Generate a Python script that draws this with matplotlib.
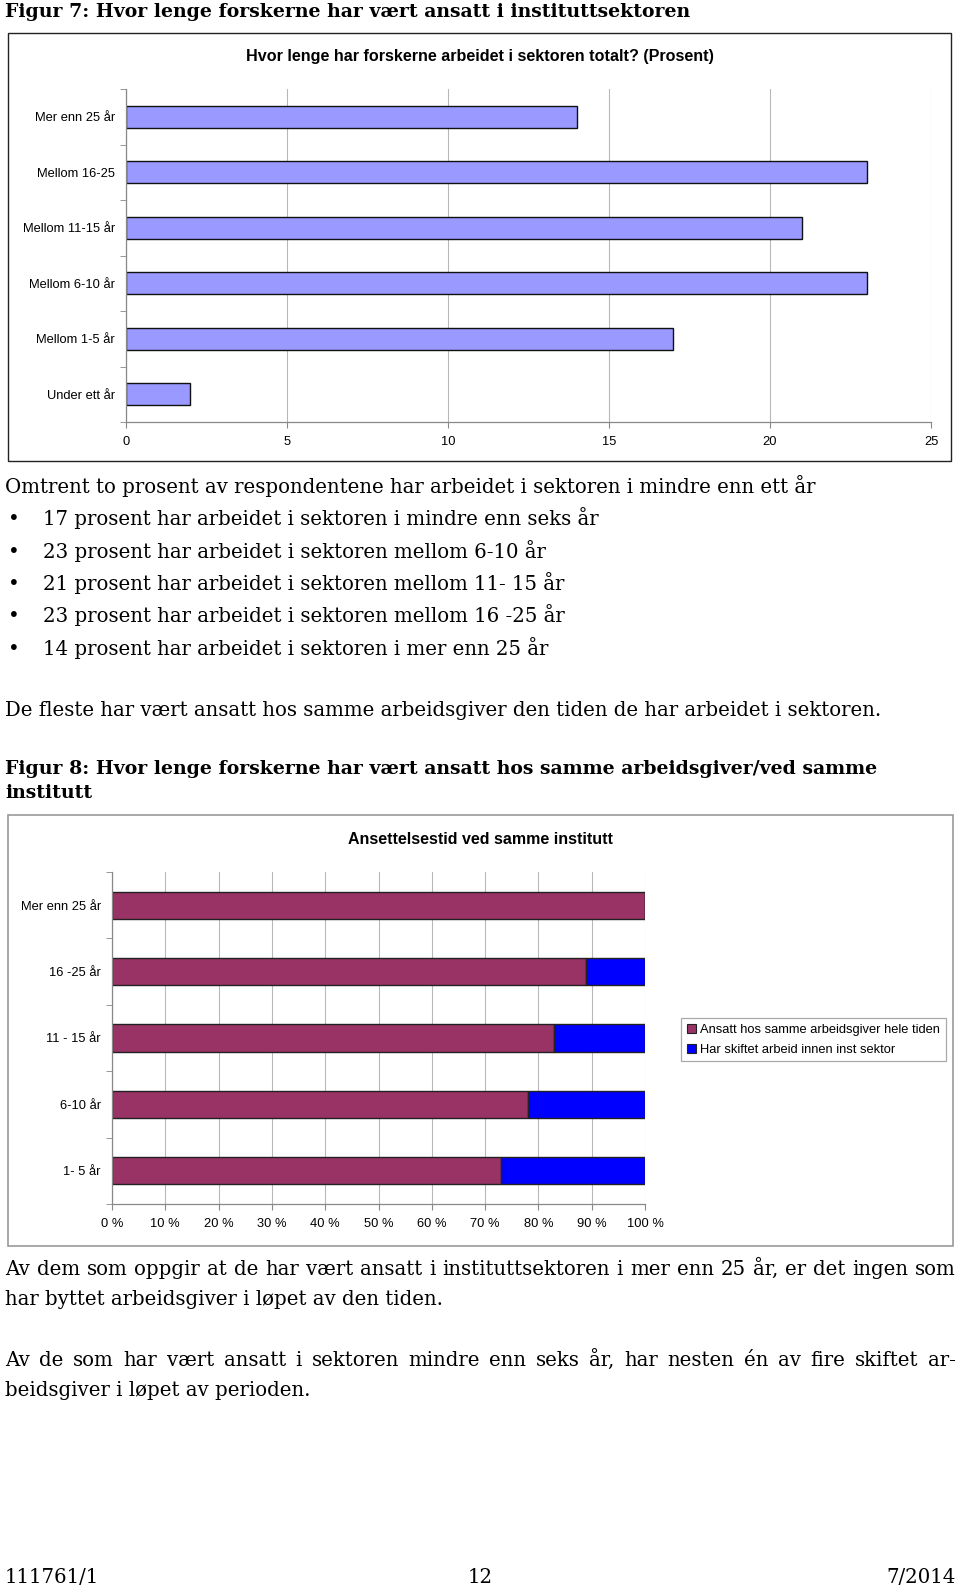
import matplotlib
matplotlib.use("Agg")
import matplotlib.pyplot as plt
from matplotlib.patches import Rectangle, Patch
from matplotlib.ticker import FixedLocator

W, H = 960, 1589
DPI = 100

# ---------------- data ----------------
cat1 = ["Under ett år", "Mellom 1-5 år", "Mellom 6-10 år", "Mellom 11-15 år", "Mellom 16-25", "Mer enn 25 år"]
val1 = [2, 17, 23, 21, 23, 14]
xticks1 = [0, 5, 10, 15, 20, 25]

cat2 = ["1- 5 år", "6-10 år", "11 - 15 år", "16 -25 år", "Mer enn 25 år"]
same_emp = [73, 78, 83, 89, 100]
changed = [27, 22, 17, 11, 0]
xticks2 = [0, 10, 20, 30, 40, 50, 60, 70, 80, 90, 100]
xticklabels2 = [f"{v} %" for v in xticks2]
legend_labels = ["Ansatt hos samme arbeidsgiver hele tiden", "Har skiftet arbeid innen inst sektor"]

fig_title7 = "Figur 7: Hvor lenge forskerne har vært ansatt i instituttsektoren"
chart_title1 = "Hvor lenge har forskerne arbeidet i sektoren totalt? (Prosent)"
intro = "Omtrent to prosent av respondentene har arbeidet i sektoren i mindre enn ett år"
bullets = ["17 prosent har arbeidet i sektoren i mindre enn seks år",
           "23 prosent har arbeidet i sektoren mellom 6-10 år",
           "21 prosent har arbeidet i sektoren mellom 11- 15 år",
           "23 prosent har arbeidet i sektoren mellom 16 -25 år",
           "14 prosent har arbeidet i sektoren i mer enn 25 år"]
para1 = "De fleste har vært ansatt hos samme arbeidsgiver den tiden de har arbeidet i sektoren."
fig_title8a = "Figur 8: Hvor lenge forskerne har vært ansatt hos samme arbeidsgiver/ved samme"
fig_title8b = "institutt"
chart_title2 = "Ansettelsestid ved samme institutt"
para2 = ["Av dem som oppgir at de har vært ansatt i instituttsektoren i mer enn 25 år, er det ingen som",
         "har byttet arbeidsgiver i løpet av den tiden."]
para3 = ["Av de som har vært ansatt i sektoren mindre enn seks år, har nesten én av fire skiftet ar-",
         "beidsgiver i løpet av perioden."]
footer = ["111761/1", "12", "7/2014"]

# ---------------- figure ----------------
fig = plt.figure(figsize=(W / DPI, H / DPI), dpi=DPI)
fig.patch.set_facecolor("white")
r = fig.canvas.get_renderer()

SANS = "Liberation Sans"
SERIF = "DejaVu Serif"


def fx(x):
    return x / W


def fy(y):
    return 1 - y / H


def fit_size(s, target_w, **kw):
    t = fig.text(0, 0, s, fontsize=10, **kw)
    w = t.get_window_extent(r).width
    t.remove()
    return 10 * target_w / w


body_fs = fit_size(intro, 814, family=SERIF)
bold_fs = fit_size(fig_title8a, 888, family=SERIF, weight="bold")
bold_fs = min(bold_fs, fit_size(fig_title7, 687, family=SERIF, weight="bold"))


def put(s, x, y, fontsize, **kw):
    # y is the visual centre of the capitals; place by baseline
    base = y + 0.36 * fontsize * DPI / 72
    return fig.text(fx(x), fy(base), s, va="baseline", fontsize=fontsize, **kw)


def justify(line, y, x0, x1, fontsize, **kw):
    base = y + 0.36 * fontsize * DPI / 72
    words = line.split(" ")
    ts = [fig.text(0, fy(base), w, va="baseline", fontsize=fontsize, **kw) for w in words]
    widths = [t.get_window_extent(r).width for t in ts]
    gap = (x1 - x0 - sum(widths)) / (len(words) - 1)
    x = x0
    for t, wd in zip(ts, widths):
        t.set_x(fx(x))
        x += wd + gap


# ---------------- page texts ----------------
put(fig_title7, 5, 10, bold_fs, family=SERIF, weight="bold")
put(intro, 5, 486, body_fs, family=SERIF)
for i, b in enumerate(bullets):
    y = 518 + i * 32.4
    put("•", 8, y, body_fs, family=SERIF)
    put(b, 43, y, body_fs, family=SERIF)
put(para1, 5, 709, body_fs, family=SERIF)
put(fig_title8a, 5, 767, bold_fs, family=SERIF, weight="bold")
put(fig_title8b, 5, 791, bold_fs, family=SERIF, weight="bold")
justify(para2[0], 1268, 5, 956, body_fs, family=SERIF)
put(para2[1], 5, 1298, body_fs, family=SERIF)
justify(para3[0], 1359, 5, 956, body_fs, family=SERIF)
put(para3[1], 5, 1389, body_fs, family=SERIF)
put(footer[0], 5, 1576, body_fs, family=SERIF)
put(footer[1], 480, 1576, body_fs, family=SERIF, ha="center")
put(footer[2], 956, 1576, body_fs, family=SERIF, ha="right")

# ---------------- chart frames ----------------
fig.add_artist(Rectangle((fx(8), fy(461)), (951 - 8) / W, (461 - 33) / H,
                         transform=fig.transFigure, fill=False, edgecolor="#222222", lw=1.0))
fig.add_artist(Rectangle((fx(8), fy(1246)), (953 - 8) / W, (1246 - 815) / H,
                         transform=fig.transFigure, fill=False, edgecolor="#999999", lw=1.2))

fig.text(fx(480), fy(57), chart_title1, family=SANS, weight="bold", fontsize=11.6,
         ha="center", va="center")
fig.text(fx(480), fy(839), chart_title2, family=SANS, weight="bold", fontsize=11.5,
         ha="center", va="center")


def style_axes(ax, ncat, xt, xtl, xmax):
    ax.set_xlim(0, xmax)
    ax.set_ylim(-0.5, ncat - 0.5)
    ax.set_xticks(xt)
    ax.set_xticklabels(xtl, family=SANS, fontsize=9.3)
    ax.xaxis.grid(True, color="#b8b8b8", lw=0.8)
    ax.set_axisbelow(True)
    ax.yaxis.set_minor_locator(FixedLocator([i - 0.5 for i in range(ncat + 1)]))
    ax.tick_params(axis="y", which="major", length=0, pad=8)
    ax.tick_params(axis="y", which="minor", length=4, color="#888888", direction="out")
    ax.tick_params(axis="x", length=4, color="#888888", pad=6)
    for s in ["top", "right"]:
        ax.spines[s].set_visible(False)
    for s in ["left", "bottom"]:
        ax.spines[s].set_color("#888888")
        ax.spines[s].set_linewidth(0.9)
    for lab in ax.get_yticklabels():
        lab.set_family(SANS)
        lab.set_fontsize(9.3)


# ---------------- chart 1 ----------------
ax1 = fig.add_axes([fx(126), fy(422), (931 - 126) / W, (422 - 89) / H])
pos1 = list(range(len(cat1)))
ax1.barh(pos1, val1, height=0.4, color="#9999FF", edgecolor="#111111", linewidth=1.0)
ax1.set_yticks(pos1)
ax1.set_yticklabels(cat1)
style_axes(ax1, len(cat1), xticks1, [str(v) for v in xticks1], 25)

# ---------------- chart 2 ----------------
ax2 = fig.add_axes([fx(112), fy(1204), (645 - 112) / W, (1204 - 872) / H])
pos2 = list(range(len(cat2)))
ax2.barh(pos2, same_emp, height=0.41, color="#993366", edgecolor="#222222", linewidth=1.0)
ax2.barh(pos2, changed, left=same_emp, height=0.41, color="#0000FF", edgecolor="#222222", linewidth=1.0)
ax2.set_yticks(pos2)
ax2.set_yticklabels(cat2)
style_axes(ax2, len(cat2), xticks2, xticklabels2, 100)

handles = [Patch(facecolor="#993366", edgecolor="#222222", lw=0.8),
           Patch(facecolor="#0000FF", edgecolor="#222222", lw=0.8)]
leg = fig.legend(handles, legend_labels, loc="upper left",
                 bbox_to_anchor=(fx(681), fy(1018)), bbox_transform=fig.transFigure,
                 borderaxespad=0, fancybox=False, framealpha=1, edgecolor="#aaaaaa",
                 prop={"family": SANS, "size": 9.3}, handlelength=0.7, handleheight=0.7,
                 handletextpad=0.35, labelspacing=0.6, borderpad=0.45)
leg.get_frame().set_linewidth(0.9)

fig.savefig("out.png", dpi=DPI)
